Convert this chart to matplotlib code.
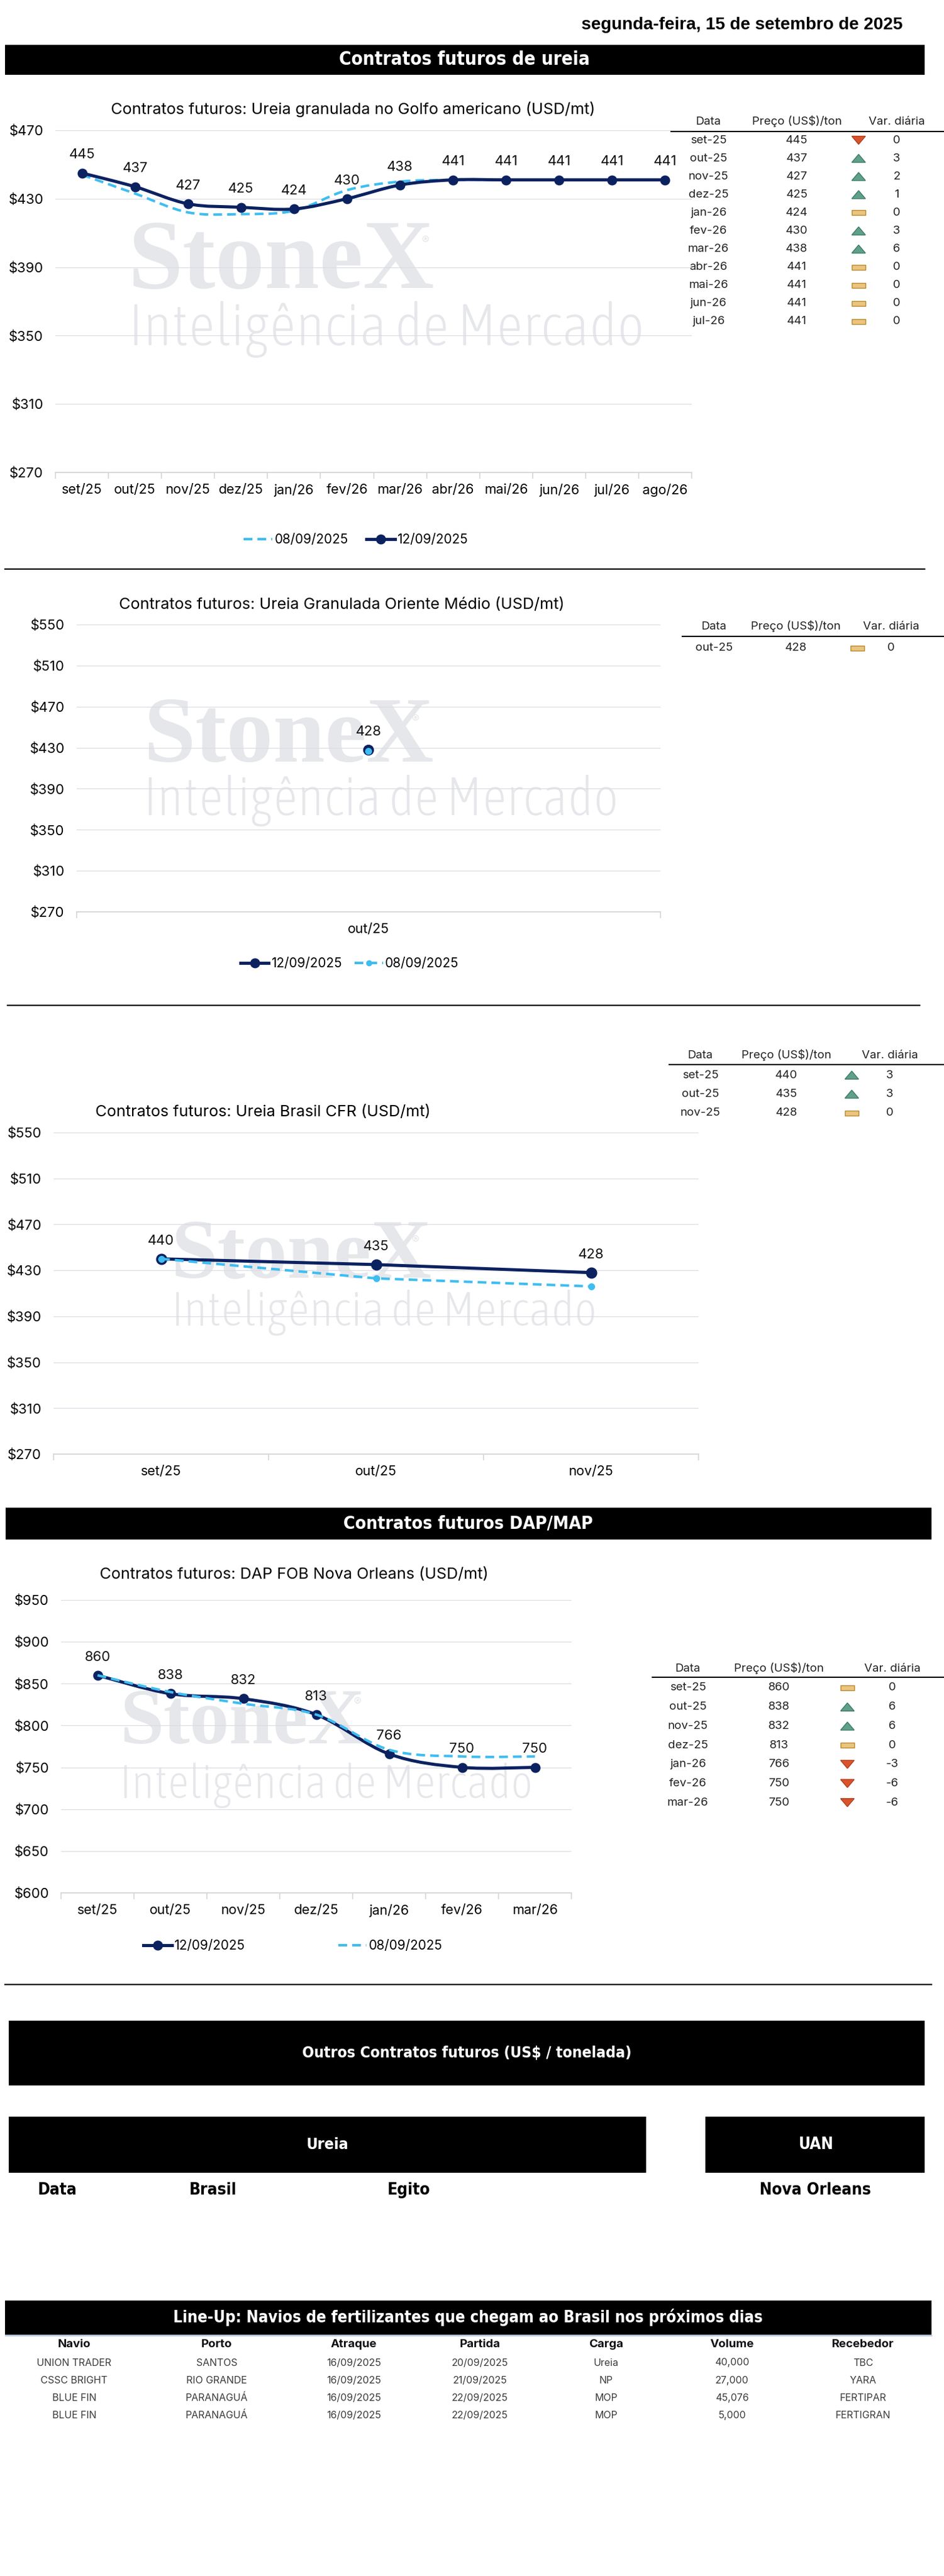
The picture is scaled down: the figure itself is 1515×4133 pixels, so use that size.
import matplotlib
matplotlib.use('Agg')
import matplotlib.pyplot as plt
from matplotlib import font_manager
from matplotlib.font_manager import FontProperties
from matplotlib.path import Path
from matplotlib.patches import PathPatch, Rectangle, Polygon
from matplotlib.lines import Line2D

plt.rcParams['font.family'] = ['Inter', 'DejaVu Sans']

W, H = 1515, 4133
NAVY = '#0B2160'
LIGHT = '#3FBDF0'
GRID = '#DCDCE6'
AXIS = '#D9D9D9'
WM = '#E6E7EA'

# ---- dados ----
golfo_meses = ['set/25', 'out/25', 'nov/25', 'dez/25', 'jan/26', 'fev/26',
               'mar/26', 'abr/26', 'mai/26', 'jun/26', 'jul/26', 'ago/26']
golfo_1209 = [445, 437, 427, 425, 424, 430, 438, 441, 441, 441, 441, 441]
golfo_0809 = [444, 433, 422, 421, 423, 435, 440, 441, 441, 441, 441, 441]

tab_golfo_datas = ['set-25', 'out-25', 'nov-25', 'dez-25', 'jan-26', 'fev-26',
                   'mar-26', 'abr-26', 'mai-26', 'jun-26', 'jul-26']
tab_golfo_precos = [445, 437, 427, 425, 424, 430, 438, 441, 441, 441, 441]
tab_golfo_var = [0, 3, 2, 1, 0, 3, 6, 0, 0, 0, 0]
tab_golfo_sinal = ['down', 'up', 'up', 'up', 'flat', 'up', 'up',
                   'flat', 'flat', 'flat', 'flat']

om_meses = ['out/25']
om_1209 = [428]
om_0809 = [427]
tab_om_datas = ['out-25']
tab_om_precos = [428]
tab_om_var = [0]
tab_om_sinal = ['flat']

cfr_meses = ['set/25', 'out/25', 'nov/25']
cfr_1209 = [440, 435, 428]
cfr_0809 = [440, 423, 416]
tab_cfr_datas = ['set-25', 'out-25', 'nov-25']
tab_cfr_precos = [440, 435, 428]
tab_cfr_var = [3, 3, 0]
tab_cfr_sinal = ['up', 'up', 'flat']

dap_meses = ['set/25', 'out/25', 'nov/25', 'dez/25', 'jan/26', 'fev/26', 'mar/26']
dap_1209 = [860, 838, 832, 813, 766, 750, 750]
dap_0809 = [860, 840, 826, 813, 771, 763, 763]
tab_dap_datas = ['set-25', 'out-25', 'nov-25', 'dez-25', 'jan-26', 'fev-26', 'mar-26']
tab_dap_precos = [860, 838, 832, 813, 766, 750, 750]
tab_dap_var = [0, 6, 6, 0, -3, -6, -6]
tab_dap_sinal = ['flat', 'up', 'up', 'flat', 'down', 'down', 'down']

outros_colunas = ['Data', 'Brasil', 'Egito', 'Nova Orleans']

lineup_colunas = ['Navio', 'Porto', 'Atraque', 'Partida', 'Carga', 'Volume', 'Recebedor']
navio = ['UNION TRADER', 'CSSC BRIGHT', 'BLUE FIN', 'BLUE FIN']
porto = ['SANTOS', 'RIO GRANDE', 'PARANAGUÁ', 'PARANAGUÁ']
atraque = ['16/09/2025', '16/09/2025', '16/09/2025', '16/09/2025']
partida = ['20/09/2025', '21/09/2025', '22/09/2025', '22/09/2025']
carga = ['Ureia', 'NP', 'MOP', 'MOP']
volume = ['40,000', '27,000', '45,076', '5,000']
recebedor = ['TBC', 'YARA', 'FERTIPAR', 'FERTIGRAN']


# ---- fontes condensadas (se houver) ----
def _w(v):
    if isinstance(v, str):
        return {'light': 300, 'normal': 400, 'regular': 400, 'medium': 500,
                'semibold': 600, 'bold': 700, 'heavy': 800, 'black': 900}.get(v, 400)
    return v


def _s(v):
    if isinstance(v, str):
        return {'ultra-condensed': 50, 'extra-condensed': 62, 'condensed': 75,
                'semi-condensed': 87, 'normal': 100}.get(v, 100)
    return v / 5 if v > 100 else v


def find_cond(wmin, wmax):
    best = None
    for f in font_manager.fontManager.ttflist:
        name = f.name.lower()
        s = _s(f.stretch)
        if 'narrow' in name or 'condensed' in name:
            s = min(s, 80)
        if s < 95 and wmin <= _w(f.weight) <= wmax and f.style == 'normal' \
                and 'mono' not in name and 'serif' not in name:
            d = abs(s - 75)
            if best is None or d < best[0]:
                best = (d, f.fname)
    return best[1] if best else None


cb = find_cond(650, 800)
COND_BOLD = FontProperties(fname=cb) if cb else FontProperties(family='Liberation Sans', weight='bold')
cl = find_cond(200, 350)
LIGHT_FONT = FontProperties(fname=cl) if cl else FontProperties(family=['Lato', 'DejaVu Sans'], weight='light')

# ---- figura ----
fig = plt.figure(figsize=(W / 100, H / 100), dpi=100)
ov = fig.add_axes([0, 0, 1, 1])
ov.set_xlim(0, W)
ov.set_ylim(H, 0)
ov.axis('off')
renderer = fig.canvas.get_renderer()


def fit(t, width, extra=1.0):
    w = t.get_window_extent(renderer).width
    t.set_fontsize(t.get_fontsize() * width / w * extra)
    return t


def px_axes(x0, top, x1, bottom):
    ax = fig.add_axes([x0 / W, 1 - bottom / H, (x1 - x0) / W, (bottom - top) / H])
    ax.set_facecolor('none')
    return ax


def setup_chart(ax, meses, ymin, ymax, step):
    n = len(meses)
    ax.set_xlim(-0.5, n - 0.5)
    ax.set_ylim(ymin, ymax)
    ticks = list(range(ymin, ymax + 1, step))
    ax.set_yticks(ticks)
    ax.set_yticklabels(['$' + str(v) for v in ticks])
    ax.set_xticks(range(n))
    ax.set_xticklabels(meses)
    ax.set_xticks([i - 0.5 for i in range(n + 1)], minor=True)
    ax.tick_params(axis='x', which='major', length=0, pad=13, labelsize=15.5)
    ax.tick_params(axis='x', which='minor', length=7, color=AXIS, width=1.3)
    ax.tick_params(axis='y', length=0, pad=14, labelsize=16)
    for s in ['top', 'right', 'left']:
        ax.spines[s].set_visible(False)
    ax.spines['bottom'].set_color(AXIS)
    ax.spines['bottom'].set_linewidth(1.5)
    ax.grid(axis='y', color=GRID, lw=0.9)
    ax.set_axisbelow(True)


def smooth(xs, ys):
    verts = [(xs[0], ys[0])]
    codes = [Path.MOVETO]
    n = len(xs)
    for i in range(n - 1):
        a = max(i - 1, 0)
        b = min(i + 2, n - 1)
        c1 = (xs[i] + (xs[i + 1] - xs[a]) / 6, ys[i] + (ys[i + 1] - ys[a]) / 6)
        c2 = (xs[i + 1] - (xs[b] - xs[i]) / 6, ys[i + 1] - (ys[b] - ys[i]) / 6)
        verts += [c1, c2, (xs[i + 1], ys[i + 1])]
        codes += [Path.CURVE4] * 3
    return Path(verts, codes)


def labels(ax, vals):
    for i, v in enumerate(vals):
        ax.annotate(str(v), (i, v), xytext=(0, 21), textcoords='offset points',
                    ha='center', va='center', fontsize=16, color='#111111')


def solid_handle():
    return Line2D([], [], color=NAVY, lw=3.6, marker='o', ms=10.5)


def dash_handle(marker=None):
    return Line2D([], [], color=LIGHT, lw=2.9, linestyle=(0, (3.5, 2)),
                  marker=marker, ms=6)


def legenda(ax, handles, texts, cx, cy, spacing):
    ax.legend(handles, texts, loc='center', bbox_to_anchor=(cx / W, 1 - cy / H),
              bbox_transform=fig.transFigure, ncol=len(texts), frameon=False,
              fontsize=15, handlelength=2.2, handletextpad=0.15,
              columnspacing=spacing)


def watermark(x, y1, w1, xr, yr, y2, w2):
    t = ov.text(x, y1, 'StoneX', family='Liberation Serif', weight='bold',
                fontsize=100, color=WM, va='baseline', ha='left')
    fit(t, w1, 1.06)
    ov.text(xr, yr, '®', fontsize=13, color=WM, ha='center', va='center')
    t = ov.text(x, y2, 'Inteligência de Mercado', fontproperties=LIGHT_FONT,
                color=WM, va='baseline', ha='left')
    t.set_fontsize(50)
    fit(t, w2, 1.05 if cl else 1.1)


UP, UPE = '#5FA08A', '#3E7B64'
DN, DNE = '#D9542C', '#B03E1C'
FL, FLE = '#EBC47E', '#B8892E'


def icone(x, y, s):
    if s == 'up':
        p = Polygon([(x - 11, y + 6.5), (x + 11, y + 6.5), (x, y - 6.5)], fc=UP, ec=UPE, lw=1)
    elif s == 'down':
        p = Polygon([(x - 11, y - 6.5), (x + 11, y - 6.5), (x, y + 6.5)], fc=DN, ec=DNE, lw=1)
    else:
        p = Rectangle((x - 11, y - 4), 22, 8, fc=FL, ec=FLE, lw=1)
    ov.add_patch(p)


def tabela(xs, x_line, y_head, y_line, y0, step, datas, precos, sinais, vars_):
    xd, xp, xi, xv = xs
    for txt, x in zip(['Data', 'Preço (US$)/ton', 'Var. diária'], [xd, xp, xv]):
        ov.text(x, y_head, txt, ha='center', va='center', fontsize=13.5, color='#222222')
    ov.plot([x_line, W], [y_line, y_line], color='black', lw=1.5)
    for i in range(len(datas)):
        y = y0 + i * step
        ov.text(xd, y, datas[i], ha='center', va='center', fontsize=13.5, color='#222222')
        ov.text(xp, y, str(precos[i]), ha='center', va='center', fontsize=13.5, color='#222222')
        icone(xi, y, sinais[i])
        ov.text(xv, y, str(vars_[i]), ha='center', va='center', fontsize=13.5, color='#222222')


def banner(x0, y0, x1, y1, txt, cx, width):
    ov.add_patch(Rectangle((x0, y0), x1 - x0, y1 - y0, fc='black', ec='none'))
    t = ov.text(cx, (y0 + y1) / 2, txt, color='white', fontproperties=COND_BOLD,
                ha='center', va='center')
    t.set_fontsize(20)
    fit(t, width, 1.0 if cb else 1.12)


def separador(x0, x1, y):
    ov.plot([x0, x1], [y, y], color='black', lw=1.6)


# ---- cabeçalho ----
t = ov.text(1449, 40, 'segunda-feira, 15 de setembro de 2025', family='Liberation Sans',
            weight='bold', fontsize=19, ha='right', va='center', color='black')
fit(t, 515)
banner(8, 72, 1484, 120, 'Contratos futuros de ureia', 745, 403)

# ---- gráfico 1: Golfo americano ----
t = ov.text(567, 176, 'Contratos futuros: Ureia granulada no Golfo americano (USD/mt)',
            ha='center', va='center', fontsize=17)
fit(t, 778)
title_size = t.get_fontsize()
watermark(206, 462, 464, 682, 386, 554, 789)
ax1 = px_axes(89, 209, 1110, 758)
setup_chart(ax1, golfo_meses, 270, 470, 40)
x1 = list(range(len(golfo_meses)))
ax1.add_patch(PathPatch(smooth(x1, golfo_0809), fc='none', ec=LIGHT, lw=2.9,
                        linestyle=(0, (3.5, 2)), zorder=3))
ax1.add_patch(PathPatch(smooth(x1, golfo_1209), fc='none', ec=NAVY, lw=3.6, zorder=4))
ax1.plot(x1, golfo_1209, 'o', color=NAVY, ms=10.5, zorder=5)
labels(ax1, golfo_1209)
legenda(ax1, [dash_handle(), solid_handle()], ['08/09/2025', '12/09/2025'], 571, 866, 1.4)
tabela((1137, 1279, 1378, 1439), 1077, 195, 211, 225, 29.1,
       tab_golfo_datas, tab_golfo_precos, tab_golfo_sinal, tab_golfo_var)

separador(8, 1484, 913)

# ---- gráfico 2: Oriente Médio ----
ov.text(548, 971, 'Contratos futuros: Ureia Granulada Oriente Médio (USD/mt)',
        ha='center', va='center', fontsize=title_size)
watermark(230, 1222, 440, 666, 1154, 1308, 726)
ax2 = px_axes(123, 1002, 1060, 1463)
setup_chart(ax2, om_meses, 270, 550, 40)
ax2.plot(range(len(om_meses)), om_1209, '-o', color=NAVY, lw=3.6, ms=11.5, zorder=4)
ax2.plot(range(len(om_meses)), om_0809, '--o', color=LIGHT, lw=2.9, ms=7, zorder=5)
labels(ax2, om_1209)
legenda(ax2, [solid_handle(), dash_handle('o')], ['12/09/2025', '08/09/2025'], 561, 1546, 1.0)
tabela((1146, 1277, 1376, 1430), 1095, 1005, 1021, 1039.5, 30,
       tab_om_datas, tab_om_precos, tab_om_sinal, tab_om_var)

separador(12, 1476, 1613)

# ---- gráfico 3: Brasil CFR ----
ov.text(422, 1785, 'Contratos futuros: Ureia Brasil CFR (USD/mt)',
        ha='center', va='center', fontsize=title_size)
watermark(275, 2050, 395, 666, 1990, 2127, 652)
ax3 = px_axes(86, 1817, 1121, 2333)
setup_chart(ax3, cfr_meses, 270, 550, 40)
x3 = list(range(len(cfr_meses)))
ax3.plot(x3, cfr_1209, '-o', color=NAVY, lw=3.6, ms=12, zorder=4)
ax3.plot(x3, cfr_0809, color=LIGHT, lw=2.9, linestyle=(0, (3.5, 2)), marker='o', ms=7, zorder=5)
labels(ax3, cfr_1209)
tabela((1124, 1262, 1367, 1428), 1074, 1693, 1708, 1725, 30.5,
       tab_cfr_datas, tab_cfr_precos, tab_cfr_sinal, tab_cfr_var)

# ---- DAP/MAP ----
banner(9, 2419, 1495, 2470, 'Contratos futuros DAP/MAP', 751, 401)
ov.text(472, 2527, 'Contratos futuros: DAP FOB Nova Orleans (USD/mt)',
        ha='center', va='center', fontsize=title_size)
watermark(192, 2797, 371, 573, 2731, 2885, 633)
ax4 = px_axes(98, 2567, 917, 3037)
setup_chart(ax4, dap_meses, 600, 950, 50)
x4 = list(range(len(dap_meses)))
ax4.add_patch(PathPatch(smooth(x4, dap_1209), fc='none', ec=NAVY, lw=3.6, zorder=4))
ax4.plot(x4, dap_1209, 'o', color=NAVY, ms=10.5, zorder=5)
ax4.add_patch(PathPatch(smooth(x4, dap_0809), fc='none', ec=LIGHT, lw=2.9,
                        linestyle=(0, (3.5, 2)), zorder=6))
labels(ax4, dap_1209)
legenda(ax4, [solid_handle(), dash_handle()], ['12/09/2025', '08/09/2025'], 470, 3122, 7.2)
tabela((1104, 1250, 1360, 1432), 1047, 2677, 2691, 2708, 30.7,
       tab_dap_datas, tab_dap_precos, tab_dap_sinal, tab_dap_var)

separador(8, 1495, 3184)

# ---- outros contratos ----
banner(14, 3242, 1484, 3346, 'Outros Contratos futuros (US$ / tonelada)', 749, 531)
banner(14, 3396, 1037, 3486, 'Ureia', 526, 68)
banner(1132, 3396, 1484, 3486, 'UAN', 1310, 56)
for txt, x in zip(outros_colunas, [92, 342, 656, 1308]):
    t = ov.text(x, 3514, txt, fontproperties=COND_BOLD, ha='center', va='center', color='black')
    t.set_fontsize(19 if cb else 17)

# ---- line-up ----
banner(8, 3691, 1495, 3746,
       'Line-Up: Navios de fertilizantes que chegam ao Brasil nos próximos dias', 751, 948)
ov.plot([8, 1495], [3746.5, 3746.5], color='#8FAADC', lw=1)
col_x = [119, 348, 568, 770, 973, 1175, 1385]
for txt, x in zip(lineup_colunas, col_x):
    ov.text(x, 3762, txt, fontsize=13.5, weight='bold', ha='center', va='center', color='#111111')
linhas = list(zip(navio, porto, atraque, partida, carga, volume, recebedor))
for i, linha in enumerate(linhas):
    y = 3791 + i * 28.2
    for txt, x in zip(linha, col_x):
        ov.text(x, y, txt, fontsize=11.5, ha='center', va='center', color='#3A3A3A')

fig.savefig('out.png', dpi=100, facecolor='white')
